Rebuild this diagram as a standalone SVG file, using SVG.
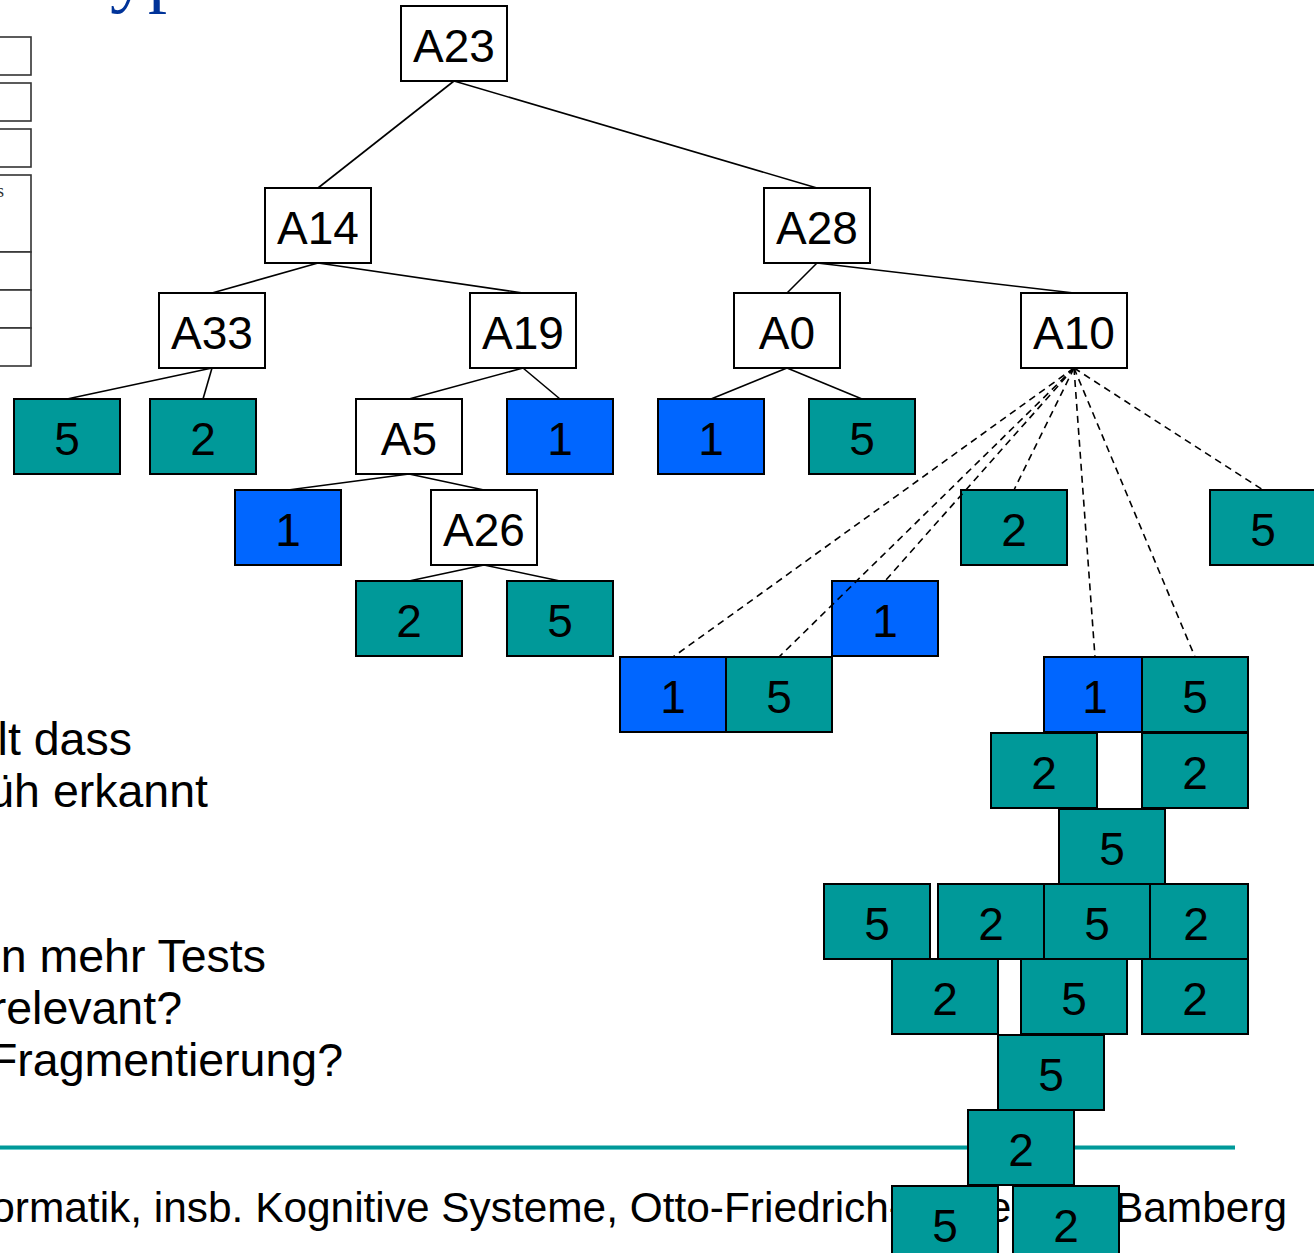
<svg xmlns="http://www.w3.org/2000/svg" width="1314" height="1253" viewBox="0 0 1314 1253">
<style>
  .box { stroke:#000; stroke-width:2; }
  .w { fill:#ffffff; }
  .t { fill:#009999; }
  .b { fill:#0066ff; }
  .lbl { font-family:"Liberation Sans", Arial, sans-serif; font-size:46px; text-anchor:middle; fill:#000; }
  .body { font-family:"Liberation Sans", Arial, sans-serif; font-size:46.5px; fill:#000; text-anchor:end; }
  .foot { font-family:"Liberation Sans", Arial, sans-serif; font-size:42.4px; fill:#000; text-anchor:end; }
  .edge { stroke:#000; stroke-width:1.6; fill:none; }
  .dash { stroke:#000; stroke-width:1.6; fill:none; stroke-dasharray:7 5; }
  .tbl { fill:#fff; stroke:#333; stroke-width:1.6; }
</style>

<rect x="0" y="0" width="1314" height="1253" fill="#ffffff"/>

<!-- title fragment -->
<text x="110" y="-2" font-family="'Liberation Serif', 'Times New Roman', serif" font-size="76" fill="#003399">yp</text>

<!-- partial table at left edge -->
<g id="left-table">
  <rect class="tbl" x="-10" y="37" width="41" height="38"/>
  <rect class="tbl" x="-10" y="83" width="41" height="38"/>
  <rect class="tbl" x="-10" y="129" width="41" height="38"/>
  <rect class="tbl" x="-10" y="175" width="41" height="77"/>
  <rect class="tbl" x="-10" y="252" width="41" height="38"/>
  <rect class="tbl" x="-10" y="290" width="41" height="38"/>
  <rect class="tbl" x="-10" y="328" width="41" height="38"/>
  <text x="-3" y="197" font-family="'Liberation Serif', serif" font-size="18" fill="#333">s</text>
</g>

<!-- body text -->
<g id="body-text">
  <text class="body" x="132" y="755">lt dass</text>
  <text class="body" x="208" y="807">üh erkannt</text>
  <text class="body" x="266" y="972">n mehr Tests</text>
  <text class="body" x="182" y="1024">relevant?</text>
  <text class="body" x="343" y="1076">Fragmentierung?</text>
</g>

<!-- footer -->
<line x1="0" y1="1147.5" x2="1235" y2="1147.5" stroke="#009999" stroke-width="4"/>
<line x1="0" y1="1149.5" x2="1235" y2="1149.5" stroke="#66cccc" stroke-width="1"/>
<text class="foot" x="1287" y="1222">Informatik, insb. Kognitive Systeme, Otto-Friedrich-Universität Bamberg</text>

<!-- tree nodes -->
<g id="A23"><rect class="box w" x="401" y="6" width="106" height="75"/><text class="lbl" x="454" y="62">A23</text></g>
<g id="A14"><rect class="box w" x="265" y="188" width="106" height="75"/><text class="lbl" x="318" y="244">A14</text></g>
<g id="A28"><rect class="box w" x="764" y="188" width="106" height="75"/><text class="lbl" x="817" y="244">A28</text></g>
<g id="A33"><rect class="box w" x="159" y="293" width="106" height="75"/><text class="lbl" x="212" y="349">A33</text></g>
<g id="A19"><rect class="box w" x="470" y="293" width="106" height="75"/><text class="lbl" x="523" y="349">A19</text></g>
<g id="A0"><rect class="box w" x="734" y="293" width="106" height="75"/><text class="lbl" x="787" y="349">A0</text></g>
<g id="A10"><rect class="box w" x="1021" y="293" width="106" height="75"/><text class="lbl" x="1074" y="349">A10</text></g>
<g id="A5"><rect class="box w" x="356" y="399" width="106" height="75"/><text class="lbl" x="409" y="455">A5</text></g>
<g id="A26"><rect class="box w" x="431" y="490" width="106" height="75"/><text class="lbl" x="484" y="546">A26</text></g>

<!-- leaves -->
<g id="leaf-a33-5"><rect class="box t" x="14" y="399" width="106" height="75"/><text class="lbl" x="67" y="455">5</text></g>
<g id="leaf-a33-2"><rect class="box t" x="150" y="399" width="106" height="75"/><text class="lbl" x="203" y="455">2</text></g>
<g id="leaf-a19-1"><rect class="box b" x="507" y="399" width="106" height="75"/><text class="lbl" x="560" y="455">1</text></g>
<g id="leaf-a0-1"><rect class="box b" x="658" y="399" width="106" height="75"/><text class="lbl" x="711" y="455">1</text></g>
<g id="leaf-a0-5"><rect class="box t" x="809" y="399" width="106" height="75"/><text class="lbl" x="862" y="455">5</text></g>
<g id="leaf-a5-1"><rect class="box b" x="235" y="490" width="106" height="75"/><text class="lbl" x="288" y="546">1</text></g>
<g id="leaf-a26-2"><rect class="box t" x="356" y="581" width="106" height="75"/><text class="lbl" x="409" y="637">2</text></g>
<g id="leaf-a26-5"><rect class="box t" x="507" y="581" width="106" height="75"/><text class="lbl" x="560" y="637">5</text></g>
<g id="leaf-a10-2"><rect class="box t" x="961" y="490" width="106" height="75"/><text class="lbl" x="1014" y="546">2</text></g>
<g id="leaf-a10-5r"><rect class="box t" x="1210" y="490" width="106" height="75"/><text class="lbl" x="1263" y="546">5</text></g>
<g id="leaf-a10-1m"><rect class="box b" x="832" y="581" width="106" height="75"/><text class="lbl" x="885" y="637">1</text></g>
<g id="leaf-a10-1l"><rect class="box b" x="620" y="657" width="106" height="75"/><text class="lbl" x="673" y="713">1</text></g>
<g id="leaf-a10-5l"><rect class="box t" x="726" y="657" width="106" height="75"/><text class="lbl" x="779" y="713">5</text></g>

<!-- stacked blocks -->
<g id="stack-1"><rect class="box b" x="1044" y="657" width="98" height="75"/><text class="lbl" x="1095" y="713">1</text></g>
<g id="stack-2"><rect class="box t" x="1142" y="657" width="106" height="75"/><text class="lbl" x="1195" y="713">5</text></g>
<g id="stack-3"><rect class="box t" x="991" y="733" width="106" height="75"/><text class="lbl" x="1044" y="789">2</text></g>
<g id="stack-4"><rect class="box t" x="1142" y="733" width="106" height="75"/><text class="lbl" x="1195" y="789">2</text></g>
<g id="stack-5"><rect class="box t" x="1059" y="809" width="106" height="75"/><text class="lbl" x="1112" y="865">5</text></g>
<g id="stack-6"><rect class="box t" x="824" y="884" width="106" height="75"/><text class="lbl" x="877" y="940">5</text></g>
<g id="stack-7"><rect class="box t" x="938" y="884" width="106" height="75"/><text class="lbl" x="991" y="940">2</text></g>
<g id="stack-8"><rect class="box t" x="1044" y="884" width="106" height="75"/><text class="lbl" x="1097" y="940">5</text></g>
<g id="stack-9"><rect class="box t" x="1150" y="884" width="98" height="75"/><text class="lbl" x="1196" y="940">2</text></g>
<g id="stack-10"><rect class="box t" x="892" y="959" width="106" height="75"/><text class="lbl" x="945" y="1015">2</text></g>
<g id="stack-11"><rect class="box t" x="1021" y="959" width="106" height="75"/><text class="lbl" x="1074" y="1015">5</text></g>
<g id="stack-12"><rect class="box t" x="1142" y="959" width="106" height="75"/><text class="lbl" x="1195" y="1015">2</text></g>
<g id="stack-13"><rect class="box t" x="998" y="1035" width="106" height="75"/><text class="lbl" x="1051" y="1091">5</text></g>
<g id="stack-14"><rect class="box t" x="968" y="1110" width="106" height="75"/><text class="lbl" x="1021" y="1166">2</text></g>
<g id="stack-15"><rect class="box t" x="892" y="1186" width="106" height="75"/><text class="lbl" x="945" y="1242">5</text></g>
<g id="stack-16"><rect class="box t" x="1013" y="1186" width="106" height="75"/><text class="lbl" x="1066" y="1242">2</text></g>

<!-- connectors -->
<g id="connectors">
  <line class="edge" x1="454" y1="81" x2="318" y2="188"/>
  <line class="edge" x1="454" y1="81" x2="817" y2="188"/>
  <line class="edge" x1="318" y1="263" x2="212" y2="293"/>
  <line class="edge" x1="318" y1="263" x2="523" y2="293"/>
  <line class="edge" x1="817" y1="263" x2="787" y2="293"/>
  <line class="edge" x1="817" y1="263" x2="1074" y2="293"/>
  <line class="edge" x1="212" y1="368" x2="67" y2="399"/>
  <line class="edge" x1="212" y1="368" x2="203" y2="399"/>
  <line class="edge" x1="523" y1="368" x2="409" y2="399"/>
  <line class="edge" x1="523" y1="368" x2="560" y2="399"/>
  <line class="edge" x1="787" y1="368" x2="711" y2="399"/>
  <line class="edge" x1="787" y1="368" x2="862" y2="399"/>
  <line class="edge" x1="409" y1="474" x2="288" y2="490"/>
  <line class="edge" x1="409" y1="474" x2="484" y2="490"/>
  <line class="edge" x1="484" y1="565" x2="409" y2="581"/>
  <line class="edge" x1="484" y1="565" x2="560" y2="581"/>
  <line class="dash" x1="1074" y1="368" x2="673" y2="657"/>
  <line class="dash" x1="1074" y1="368" x2="779" y2="657"/>
  <line class="dash" x1="1074" y1="368" x2="885" y2="581"/>
  <line class="dash" x1="1074" y1="368" x2="1014" y2="490"/>
  <line class="dash" x1="1074" y1="368" x2="1095" y2="657"/>
  <line class="dash" x1="1074" y1="368" x2="1195" y2="657"/>
  <line class="dash" x1="1074" y1="368" x2="1263" y2="490"/>
</g>
</svg>
